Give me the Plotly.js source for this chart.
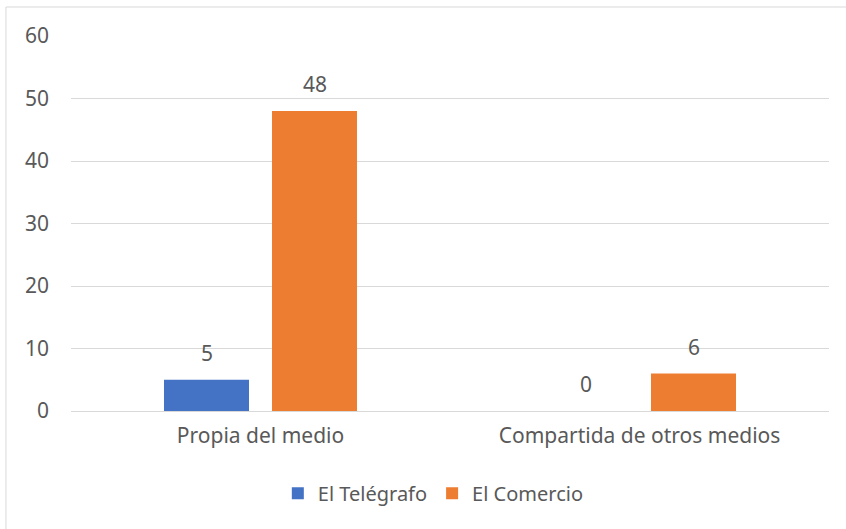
<!DOCTYPE html>
<html>
<head>
<meta charset="utf-8">
<script src="https://cdn.plot.ly/plotly-3.0.1.min.js"></script>
<style>
html,body{margin:0;padding:0;background:#fff;}
#chart{width:846px;height:529px;}
</style>
</head>
<body>
<div id="chart"></div>
<script>
var categories = ["Propia del medio", "Compartida de otros medios"];
var seriesNames = ["El Telégrafo", "El Comercio"];
var telegrafo = [5, 0];
var comercio = [48, 6];
var yTicks = [0, 10, 20, 30, 40, 50, 60];

var textColor = "#595959";
var fontFam = "Noto Sans, Open Sans, sans-serif";
var fs = 21;

var traces = [
  {type: "bar", name: seriesNames[0], x: categories, y: telegrafo,
   marker: {color: "#4472C4"}, hoverinfo: "none"},
  {type: "bar", name: seriesNames[1], x: categories, y: comercio,
   marker: {color: "#ED7D31"}, hoverinfo: "none"}
];

// value labels placed over each bar via axis coordinates
var annotations = [];
[telegrafo, comercio].forEach(function (vals, si) {
  vals.forEach(function (v, ci) {
    annotations.push({
      x: categories[ci], y: v, xref: "x", yref: "y",
      text: String(v), showarrow: false,
      xshift: si === 0 ? -54 : 54, yshift: 27, yanchor: "middle",
      font: {size: fs, color: textColor, family: fontFam}
    });
  });
});

var layout = {
  width: 846, height: 529,
  margin: {l: 71, r: 17, t: 36, b: 118},
  paper_bgcolor: "#fff", plot_bgcolor: "#fff",
  font: {family: fontFam, color: textColor, size: fs},
  barmode: "group", bargap: 0.43, bargroupgap: 0.213,
  showlegend: true,
  legend: {orientation: "h", x: 0.478, xanchor: "center", y: -0.219, yanchor: "middle",
           font: {size: 20, color: textColor, family: fontFam}, itemwidth: 30},
  xaxis: {showgrid: false, zeroline: false, showline: false, ticks: "",
          tickfont: {size: fs, color: textColor}, ticklabelstandoff: 10},
  yaxis: {range: [0, 60], tickvals: yTicks, ticktext: yTicks.map(String), showgrid: true,
          gridcolor: "#d9d9d9", gridwidth: 1, zeroline: true, zerolinecolor: "#d9d9d9",
          zerolinewidth: 1, showline: false, ticks: "", ticklabelstandoff: 21,
          tickfont: {size: fs, color: textColor}},
  annotations: annotations,
  shapes: [
    {type: "line", xref: "paper", yref: "paper", x0: -0.0858, x1: -0.0858, y0: -0.32, y1: 1.0773,
     line: {color: "#d9d9d9", width: 1}},
    {type: "line", xref: "paper", yref: "paper", x0: -0.0858, x1: 1.03, y0: 1.0773, y1: 1.0773,
     line: {color: "#d9d9d9", width: 1}}
  ]
};

Plotly.newPlot("chart", traces, layout, {displayModeBar: false, staticPlot: true});
</script>
</body>
</html>
